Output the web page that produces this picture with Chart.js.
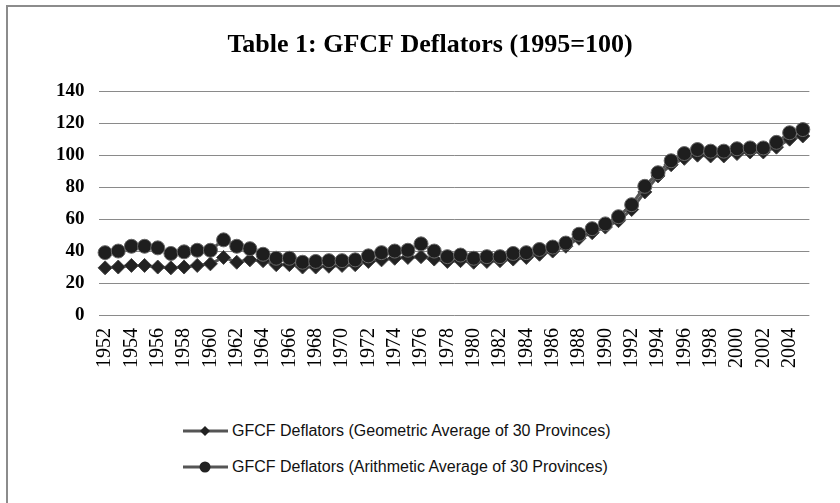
<!DOCTYPE html>
<html>
<head>
<meta charset="utf-8">
<script src="https://cdn.jsdelivr.net/npm/chart.js@4.4.0/dist/chart.umd.min.js"></script>
<style>
  body { margin: 0; background: #fff; }
  #wrap { position: relative; width: 840px; height: 503px; overflow: hidden; background: #fff; }
  #frame { position: absolute; left: 6px; top: 5px; width: 900px; height: 600px; border-left: 2px solid #8c8c8c; border-top: 2px solid #8c8c8c; }
  #box { position: absolute; left: 0; top: 0; width: 840px; height: 385px; }
  #legend { position: absolute; left: 183px; top: 413px; font-family: "Liberation Sans", Arial, sans-serif; font-size: 16px; color: #111; }
  .row { height: 36px; display: flex; align-items: center; }
  .row svg { margin-right: 4px; }
</style>
</head>
<body>
<div id="wrap">
  <div id="frame"></div>
  <div id="box"><canvas id="myChart"></canvas></div>
  <div id="legend"></div>
</div>
<script>
// data
var years = ['1952','1953','1954','1955','1956','1957','1958','1959','1960','1961',
             '1962','1963','1964','1965','1966','1967','1968','1969','1970','1971',
             '1972','1973','1974','1975','1976','1977','1978','1979','1980','1981',
             '1982','1983','1984','1985','1986','1987','1988','1989','1990','1991',
             '1992','1993','1994','1995','1996','1997','1998','1999','2000','2001',
             '2002','2003','2004','2005'];

var geometric = [29.5, 30, 31, 31, 30, 29.5, 30, 31, 32, 36,
                 33, 34.5, 34, 31.5, 31.5, 30, 30, 30.5, 31, 31.5,
                 33.5, 34.5, 35.5, 36, 36.5, 35, 33.5, 34, 33, 33.5,
                 34, 35, 36, 38, 40, 43, 48, 51.5, 55, 59,
                 66, 77, 87, 94, 98, 100, 99.5, 99.5, 101, 102,
                 102, 105, 110, 112];

var arithmetic = [39, 40, 43, 43, 42, 38.5, 39.5, 40.5, 40.5, 47,
                  43, 41.5, 38, 35.5, 35.5, 33, 33.5, 34, 34, 34.5,
                  37, 39, 40, 40.5, 44.5, 40, 36.5, 37.5, 35.5, 36.5,
                  36.5, 38.5, 39, 41, 42.5, 45, 50.5, 54, 57, 61.5,
                  69, 80.5, 89, 96.5, 101, 103.5, 102.5, 102.5, 104, 104.5,
                  104.5, 108, 114, 116];

var seriesNames = ['GFCF Deflators (Geometric Average of 30 Provinces)',
                   'GFCF Deflators (Arithmetic Average of 30 Provinces)'];
var yMin = 0, yMax = 140, yStep = 20;
var titleText = 'Table 1: GFCF Deflators (1995=100)';

var ctx = document.getElementById('myChart').getContext('2d');

var myChart = new Chart(ctx, {
   type: 'line',
   data: {
      labels: years,
      datasets: [{
         label: seriesNames[0],
         data: geometric,
         borderColor: '#555555',
         borderWidth: 3,
         pointStyle: 'rectRot',
         pointRadius: 7,
         pointBackgroundColor: '#222222',
         pointBorderColor: '#444444',
         pointBorderWidth: 1,
         order: 1
      }, {
         label: seriesNames[1],
         data: arithmetic,
         borderColor: '#555555',
         borderWidth: 3,
         pointStyle: 'circle',
         pointRadius: 7,
         pointBackgroundColor: '#1e1e1e',
         pointBorderColor: '#666666',
         pointBorderWidth: 1,
         order: 0
      }]
   },
   options: {
      responsive: true,
      maintainAspectRatio: false,
      animation: false,
      layout: { padding: { left: 42, right: 22, top: 8, bottom: 4 } },
      plugins: {
         legend: { display: false },
         tooltip: { enabled: false },
         title: {
            display: true,
            text: titleText,
            color: '#000',
            font: { family: 'Liberation Serif', size: 26, weight: 'bold' },
            padding: { top: 22, bottom: 30 }
         }
      },
      scales: {
         x: {
            offset: true,
            grid: { display: false, drawTicks: false },
            border: { display: false },
            ticks: {
               autoSkip: false,
               minRotation: 90,
               maxRotation: 90,
               padding: 13,
               color: '#000',
               font: { family: 'Liberation Serif', size: 20 },
               callback: function (val, i) {
                  return i % 2 === 0 ? years[i] : '';
               }
            }
         },
         y: {
            min: yMin,
            max: yMax,
            grid: { color: '#8a8a8a', lineWidth: 1, drawTicks: false },
            border: { display: false },
            ticks: {
               stepSize: yStep,
               padding: 14,
               color: '#000',
               font: { family: 'Liberation Serif', size: 19, weight: 'bold' }
            }
         }
      }
   }
});

// legend built from the dataset names
var legendHtml = '';
seriesNames.forEach(function (name, i) {
   var marker = i === 0
      ? '<polygon points="22,4 27,9 22,14 17,9" fill="#222"/>'
      : '<circle cx="22" cy="9" r="5.5" fill="#222"/>';
   legendHtml += '<div class="row"><svg width="45" height="18">' +
      '<line x1="0" y1="9" x2="45" y2="9" stroke="#555" stroke-width="3"/>' +
      marker + '</svg><span>' + name + '</span></div>';
});
document.getElementById('legend').innerHTML = legendHtml;
</script>
</body>
</html>
